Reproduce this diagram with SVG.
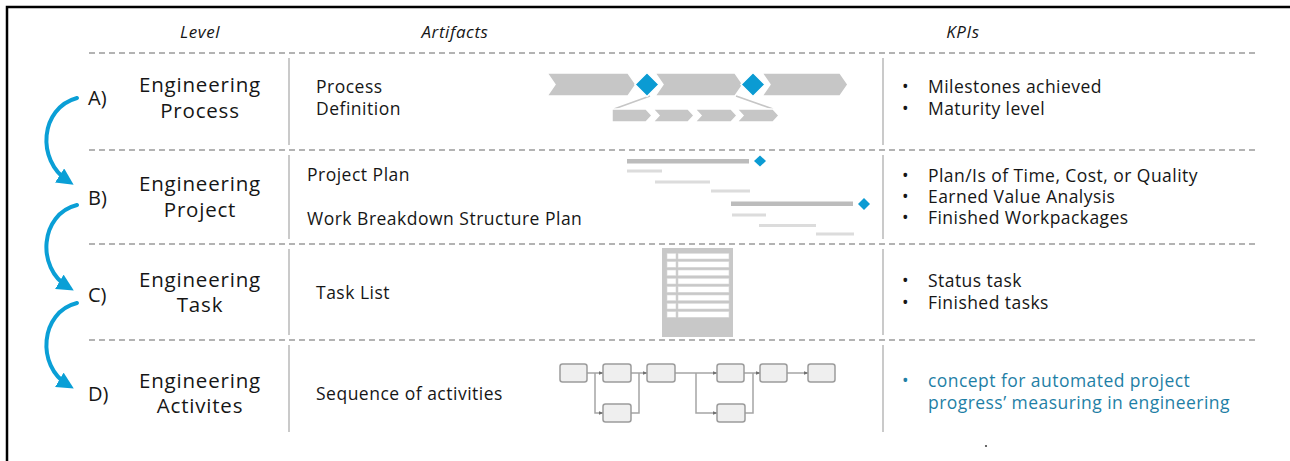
<svg xmlns="http://www.w3.org/2000/svg" width="1290" height="461" viewBox="0 0 1290 461">
  <defs>
    <style>
      text { font-family: "Open Sans", "Noto Sans", "DejaVu Sans", sans-serif; fill: #161616; }
      .hdr { font-size: 17px; font-style: italic; text-anchor: middle; letter-spacing: 0.6px; }
      .lvl { font-size: 20.5px; text-anchor: middle; letter-spacing: 0.8px; }
      .tag { font-size: 20px; }
      .art { font-size: 17.5px; letter-spacing: 0.5px; }
      .kpi { font-size: 17.5px; letter-spacing: 0.45px; }
      .blue { fill: #1f7fa6; }
      .sep { stroke: #9a9a9a; stroke-width: 1.6; stroke-dasharray: 6 4; fill: none; }
      .col { stroke: #bdbdbd; stroke-width: 1.6; fill: none; }
      .flow { stroke: #a5a5a5; stroke-width: 1.5; fill: none; }
      .step { fill: #efefef; stroke: #9c9c9c; stroke-width: 1.5; }
      .chev { fill: #c6c6c6; stroke: #ffffff; stroke-width: 1.5; }
      .mile { fill: #0b9bd3; stroke: #ffffff; stroke-width: 1.5; }
      .bar { fill: #bcbcbc; }
      .sub { fill: #dcdcdc; }
      .link { stroke: #0a9fd6; stroke-width: 4; fill: none; stroke-linecap: round; }
    </style>
    <marker id="head" viewBox="0 0 10 10" refX="6" refY="5" markerWidth="4.2" markerHeight="4.2" orient="auto" markerUnits="strokeWidth">
      <path d="M0,0 L10,5 L0,10 z" fill="#0a9fd6"/>
    </marker>
    <marker id="tip" viewBox="0 0 10 10" refX="9" refY="5" markerWidth="5" markerHeight="5" orient="auto" markerUnits="userSpaceOnUse">
      <path d="M0,1 L10,5 L0,9 z" fill="#707070"/>
    </marker>
  </defs>

  <rect width="1290" height="461" fill="#ffffff"/>

  <!-- frame -->
  <path d="M7,461 V7 H1290" fill="none" stroke="#000" stroke-width="2.5"/>

  <!-- column headers -->
  <text class="hdr" x="200" y="38">Level</text>
  <text class="hdr" x="455" y="38">Artifacts</text>
  <text class="hdr" x="963" y="38">KPIs</text>

  <!-- row separators and column rules -->
  <g id="grid">
    <line class="sep" x1="89" y1="53" x2="1255" y2="53"/>
    <line class="sep" x1="89" y1="150" x2="1255" y2="150"/>
    <line class="sep" x1="89" y1="244" x2="1255" y2="244"/>
    <line class="sep" x1="89" y1="340" x2="1255" y2="340"/>
    <path class="col" d="M289,58 V145 M289,155 V239 M289,249 V335 M289,345 V432"/>
    <path class="col" d="M883,58 V145 M883,155 V239 M883,249 V335 M883,345 V432"/>
  </g>

  <!-- level A -->
  <g id="level-a">
    <text class="tag" x="88" y="105">A)</text>
    <text class="lvl" x="200" y="92">Engineering<tspan x="200" y="118">Process</tspan></text>
    <text class="art" x="316" y="93">Process<tspan x="316" y="115">Definition</tspan></text>
    <g id="phase-chart">
      <polygon class="chev" points="547,73 628,73 636,84.5 628,96 547,96 555,84.5"/>
      <polygon class="chev" points="655,73 735,73 743,84.5 735,96 655,96 663,84.5"/>
      <polygon class="chev" points="762,73 840,73 848,84.5 840,96 762,96 770,84.5"/>
      <path d="M650,96 L614,109 M736,96 L773,109" stroke="#c6c6c6" stroke-width="1.5" fill="none"/>
      <polygon class="chev" points="612,109 646,109 652,115.5 646,122 612,122"/>
      <polygon class="chev" points="653,109 688,109 694,115.5 688,122 653,122 659,115.5"/>
      <polygon class="chev" points="695,109 731,109 737,115.5 731,122 695,122 701,115.5"/>
      <polygon class="chev" points="737,109 773,109 779,115.5 773,122 737,122 743,115.5"/>
      <polygon class="mile" points="647,72.5 659,84.5 647,96.5 635,84.5"/>
      <polygon class="mile" points="753,72.5 765,84.5 753,96.5 741,84.5"/>
    </g>
    <text class="kpi" x="902" y="93">•<tspan x="928">Milestones achieved</tspan><tspan x="902" y="115">•</tspan><tspan x="928">Maturity level</tspan></text>
  </g>

  <!-- level B -->
  <g id="level-b">
    <text class="tag" x="88" y="205">B)</text>
    <text class="lvl" x="200" y="191">Engineering<tspan x="200" y="217">Project</tspan></text>
    <text class="art" x="307" y="181">Project Plan</text>
    <text class="art" x="307" y="225">Work Breakdown Structure Plan</text>
    <g id="gantt">
      <rect class="bar" x="627" y="159" width="122" height="4.5"/>
      <polygon fill="#0b9bd3" points="760,155.5 766,161 760,166.5 754,161"/>
      <rect class="sub" x="627" y="169.5" width="35" height="3"/>
      <rect class="sub" x="655" y="180.5" width="55" height="3"/>
      <rect class="sub" x="711" y="189.5" width="39" height="3"/>
      <rect class="bar" x="731" y="201.5" width="122" height="4.5"/>
      <polygon fill="#0b9bd3" points="864,198 870,204 864,210 858,204"/>
      <rect class="sub" x="732" y="213.5" width="34" height="3"/>
      <rect class="sub" x="759" y="224" width="57" height="3"/>
      <rect class="sub" x="816" y="232.5" width="38" height="3"/>
    </g>
    <text class="kpi" x="902" y="182">•<tspan x="928">Plan/Is of Time, Cost, or Quality</tspan><tspan x="902" y="203">•</tspan><tspan x="928">Earned Value Analysis</tspan><tspan x="902" y="224">•</tspan><tspan x="928">Finished Workpackages</tspan></text>
  </g>

  <!-- level C -->
  <g id="level-c">
    <text class="tag" x="88" y="302">C)</text>
    <text class="lvl" x="200" y="287">Engineering<tspan x="200" y="312">Task</tspan></text>
    <text class="art" x="316" y="299">Task List</text>
    <g id="task-list">
      <rect x="662" y="248" width="71" height="89" fill="#c8c8c8"/>
      <g fill="#ffffff" stroke="#d8d8d8" stroke-width="0.6">
        <rect x="667" y="253.3" width="9" height="5.7"/><rect x="678" y="253.3" width="51" height="5.7"/>
        <rect x="667" y="261.6" width="9" height="5.7"/><rect x="678" y="261.6" width="51" height="5.7"/>
        <rect x="667" y="270" width="9" height="5.7"/><rect x="678" y="270" width="51" height="5.7"/>
        <rect x="667" y="278.3" width="9" height="5.7"/><rect x="678" y="278.3" width="51" height="5.7"/>
        <rect x="667" y="286.6" width="9" height="5.7"/><rect x="678" y="286.6" width="51" height="5.7"/>
        <rect x="667" y="295" width="9" height="5.7"/><rect x="678" y="295" width="51" height="5.7"/>
        <rect x="667" y="303.3" width="9" height="5.7"/><rect x="678" y="303.3" width="51" height="5.7"/>
        <rect x="667" y="311.6" width="9" height="5.7"/><rect x="678" y="311.6" width="51" height="5.7"/>
      </g>
    </g>
    <text class="kpi" x="902" y="287">•<tspan x="928">Status task</tspan><tspan x="902" y="309">•</tspan><tspan x="928">Finished tasks</tspan></text>
  </g>

  <!-- level D -->
  <g id="level-d">
    <text class="tag" x="88" y="401">D)</text>
    <text class="lvl" x="200" y="388">Engineering<tspan x="200" y="413">Activites</tspan></text>
    <text class="art" x="316" y="400">Sequence of activities</text>
    <g id="activity-flow">
      <g id="flow-links">
        <path class="flow" d="M587,373 H603" marker-end="url(#tip)"/>
        <path class="flow" d="M595,373 V413 H603" marker-end="url(#tip)"/>
        <path class="flow" d="M631,373 H647" marker-end="url(#tip)"/>
        <path class="flow" d="M631,413 H639 V373"/>
        <path class="flow" d="M675,373 H717" marker-end="url(#tip)"/>
        <path class="flow" d="M696,373 V413 H717" marker-end="url(#tip)"/>
        <path class="flow" d="M744,373 H760" marker-end="url(#tip)"/>
        <path class="flow" d="M745,413 H753 V373"/>
        <path class="flow" d="M787,373 H808" marker-end="url(#tip)"/>
      </g>
      <rect class="step" x="560" y="364" width="27" height="18" rx="2.5"/>
      <rect class="step" x="603" y="364" width="28" height="18" rx="2.5"/>
      <rect class="step" x="647" y="364" width="28" height="18" rx="2.5"/>
      <rect class="step" x="717" y="364" width="27" height="18" rx="2.5"/>
      <rect class="step" x="760" y="364" width="27" height="18" rx="2.5"/>
      <rect class="step" x="808" y="364" width="27" height="18" rx="2.5"/>
      <rect class="step" x="603" y="404" width="28" height="18" rx="2.5"/>
      <rect class="step" x="717" y="404" width="28" height="18" rx="2.5"/>
    </g>
    <text class="kpi blue" x="902" y="387">•<tspan x="928">concept for automated project</tspan><tspan x="928" y="409">progress’ measuring in engineering</tspan></text>
  </g>

  <!-- transitions between levels -->
  <g id="connectors">
    <path class="link" d="M77,98 C40,108 36,160 68,181" marker-end="url(#head)"/>
    <path class="link" d="M77,205 C40,214 36,268 68,287" marker-end="url(#head)"/>
    <path class="link" d="M77,303 C40,312 36,366 68,385" marker-end="url(#head)"/>
  </g>

  <circle cx="986" cy="446" r="1.1" fill="#444"/>
</svg>
